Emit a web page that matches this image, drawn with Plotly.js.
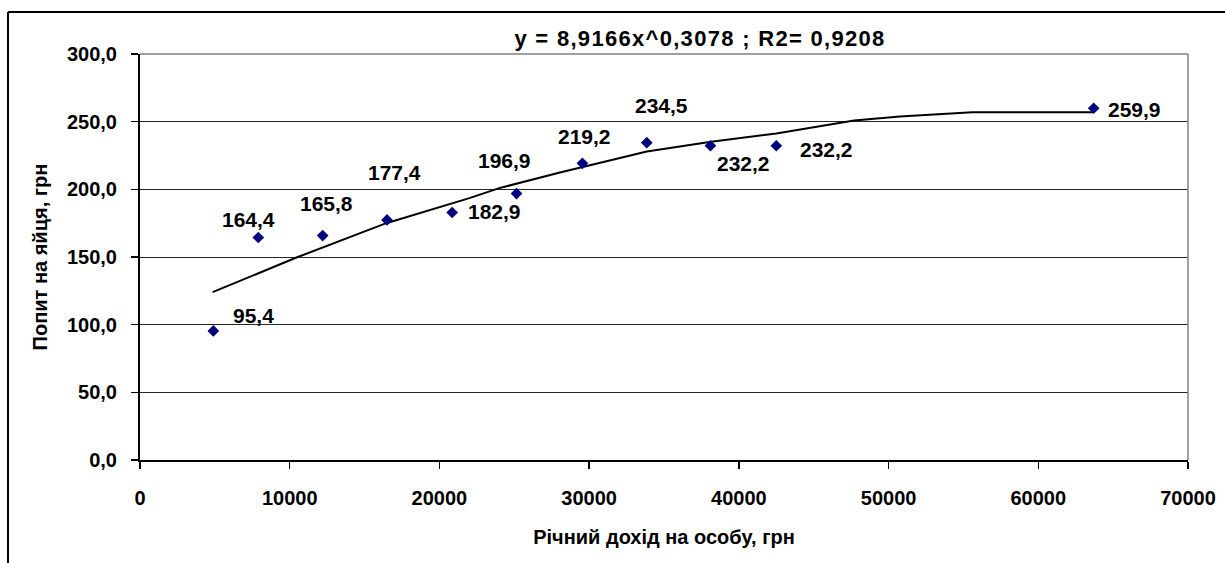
<!DOCTYPE html>
<html>
<head>
<meta charset="utf-8">
<script src="https://cdn.plot.ly/plotly-3.0.1.min.js"></script>
<style>
  html, body { margin: 0; padding: 0; background: #fff; }
  #chart { width: 1225px; height: 563px; }
  #chart .gtitle { letter-spacing: 1.3px; }
</style>
</head>
<body>
<div id="chart"></div>
<script>
// ---- data ----
const incomeX = [4900, 7900, 12200, 16500, 20850, 25150, 29550, 33850, 38100, 42500, 63700];
const demandY = [95.4, 164.4, 165.8, 177.4, 182.9, 196.9, 219.2, 234.5, 232.2, 232.2, 259.9];
const pointLabels = ["95,4", "164,4", "165,8", "177,4", "182,9", "196,9", "219,2", "234,5", "232,2", "232,2", "259,9"];

// trend line as drawn in the picture
const trendX = [4850, 10450, 16450, 22000, 24000, 28050, 33850, 38150, 42500, 47700, 50750, 55600, 63700];
const trendY = [124.0, 149.6, 175.0, 193.5, 200.9, 212.4, 228.0, 235.2, 241.3, 250.8, 253.8, 257.0, 257.0];

const yTickVals = [0, 50, 100, 150, 200, 250, 300];
const xTickVals = [0, 10000, 20000, 30000, 40000, 50000, 60000, 70000];

const titleText = "y = 8,9166x^0,3078 ; R2= 0,9208";
const xTitle = "Річний дохід на особу, грн";
const yTitle = "Попит на яйця, грн";

// ---- styling ----
const FONT = "Liberation Sans, Arial, sans-serif";
// label offsets (pixels) from each point: [xshift, yshift]
const labelShift = [[40, 15], [-10, 18], [4, 32], [7, 47], [42, 1], [-12, 33], [2, 27], [15, 37], [33, -18], [50, -4], [41, -1]];

const W = 1225, H = 563;
const L = 140, R = 37, T = 54, B = 103;
const pw = W - L - R, ph = H - T - B;
const px2paperX = p => (p - L) / pw;
const py2paperY = p => (H - B - p) / ph;

const traces = [
  {
    x: trendX, y: trendY, type: "scatter", mode: "lines",
    line: { color: "#000000", width: 2, shape: "linear" },
    hoverinfo: "skip", showlegend: false
  },
  {
    x: incomeX, y: demandY, type: "scatter", mode: "markers",
    marker: { symbol: "diamond", size: 9, color: "#000080", line: { width: 0 } },
    showlegend: false
  }
];

const annotations = incomeX.map((xv, i) => ({
  x: xv, y: demandY[i], xref: "x", yref: "y",
  text: pointLabels[i], showarrow: false,
  xanchor: "center", yanchor: "middle",
  xshift: labelShift[i][0], yshift: labelShift[i][1],
  font: { family: FONT, size: 21, color: "#000", weight: "bold" }
}));

const layout = {
  width: W, height: H,
  margin: { l: L, r: R, t: T, b: B, pad: 0 },
  paper_bgcolor: "#ffffff", plot_bgcolor: "#ffffff",
  separators: ",.",
  showlegend: false,
  font: { family: FONT, size: 20, color: "#000", weight: "bold" },
  title: {
    text: titleText,
    x: px2paperX(700), xref: "paper", xanchor: "center",
    y: 1 - 38 / H, yref: "container", yanchor: "middle",
    font: { family: FONT, size: 22, color: "#000", weight: "bold" }
  },
  xaxis: {
    range: [0, 70000], tickvals: xTickVals, tickformat: "d",
    showgrid: false, zeroline: false,
    showline: true, linecolor: "#000", linewidth: 2,
    ticks: "outside", ticklen: 7, tickwidth: 1.5, tickcolor: "#000",
    ticklabelstandoff: 12,
    tickfont: { family: FONT, size: 20, color: "#000", weight: "bold" },
    title: { text: xTitle, standoff: 22, font: { family: FONT, size: 20, color: "#000", weight: "bold" } },
    automargin: false, fixedrange: true
  },
  yaxis: {
    range: [0, 300], tickvals: yTickVals, tickformat: ".1f",
    showgrid: true, gridcolor: "#262626", gridwidth: 1,
    zeroline: false,
    showline: true, linecolor: "#000", linewidth: 2,
    ticks: "outside", ticklen: 7, tickwidth: 1.5, tickcolor: "#000",
    ticklabelstandoff: 10,
    tickfont: { family: FONT, size: 20, color: "#000", weight: "bold" },
    title: { text: yTitle, standoff: 14, font: { family: FONT, size: 20, color: "#000", weight: "bold" } },
    automargin: false, fixedrange: true
  },
  annotations: annotations,
  shapes: [
    // plot area top and right border (gray)
    { type: "line", xref: "paper", yref: "paper", x0: 0, x1: 1, y0: 1, y1: 1, line: { color: "#808080", width: 1.5 } },
    { type: "line", xref: "paper", yref: "paper", x0: 1, x1: 1, y0: 0, y1: 1, line: { color: "#808080", width: 1.5 } },
    // outer chart frame
    { type: "line", xref: "paper", yref: "paper", x0: px2paperX(8), x1: px2paperX(1230), y0: py2paperY(12), y1: py2paperY(12), line: { color: "#000", width: 2 } },
    { type: "line", xref: "paper", yref: "paper", x0: px2paperX(8), x1: px2paperX(8), y0: py2paperY(12), y1: py2paperY(570), line: { color: "#000", width: 2 } }
  ]
};

Plotly.newPlot("chart", traces, layout, { displayModeBar: false, staticPlot: true });
</script>
</body>
</html>
